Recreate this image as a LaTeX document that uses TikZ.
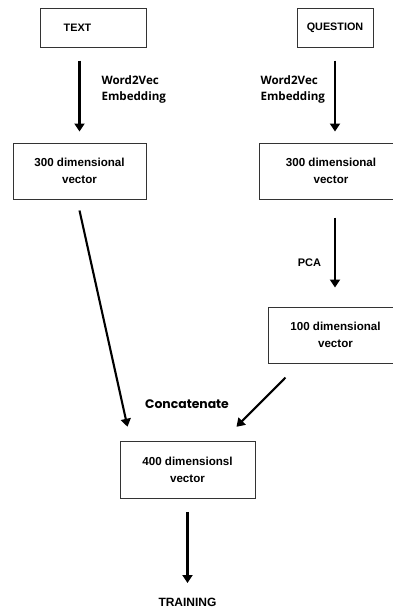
\documentclass[tikz,border=0pt]{standalone}
\usepackage{fontspec}
\setmainfont{Liberation Sans}
\newfontfamily\labfont{Open Sans}
\newfontfamily\catfont{Poppins}
\usetikzlibrary{arrows.meta}

\tikzset{
  box/.style={draw=black!80, line width=1pt, align=center, inner sep=0pt,
    font=\bfseries\fontsize{11.6}{17}\selectfont},
  arr/.style={line width=2.1pt, -{Triangle[width=10pt,length=8pt]}},
  lab/.style={font=\labfont\bfseries\fontsize{11.6}{15.5}\selectfont, align=left, anchor=west}
}

\begin{document}
\begin{tikzpicture}[x=1pt, y=-1pt]
  \clip (0,0) rectangle (393,608);
  \fill[white] (0,0) rectangle (393,608);
  % boxes
  \node[box, minimum width=106pt, minimum height=39pt, font=\bfseries\fontsize{10.8}{12}\selectfont] (text) at (93,27.5) {TEXT\hspace*{31pt}};
  \node[box, minimum width=76pt, minimum height=39pt, font=\bfseries\fontsize{10.8}{12}\selectfont] (question) at (335,27.5) {QUESTION};
  \node[box, minimum width=133pt, minimum height=56pt] (vecA) at (79.5,171) {300 dimensional\\vector};
  \node[box, minimum width=144pt, minimum height=56pt] (vecB) at (331,171) {300 dimensional\\vector};
  \node[box, minimum width=135pt, minimum height=56pt] (pcaB) at (335.5,335) {100 dimensional\\vector};
  \node[box, minimum width=135pt, minimum height=56.5pt] (vecC) at (187.5,470) {400 dimensionsl\\vector};
  % labels
  \node[lab] (embA) at (98,89.5) {Word2Vec\\Embedding};
  \node[lab] (embB) at (257,89.5) {Word2Vec\\Embedding};
  \node[font=\bfseries\fontsize{11}{13}\selectfont] (pca) at (309.5,263) {PCA};
  \node[font=\catfont\bfseries\fontsize{12.4}{15}\selectfont] (concat) at (187,404) {Concatenate};
  \node[font=\bfseries\fontsize{12}{14}\selectfont] (train) at (187.5,602) {TRAINING};
  % arrows
  \draw[arr, shorten <=13pt, shorten >=11pt] (vecA.north |- text.south) -- (vecA.north);
  \draw[arr, shorten <=13pt, shorten >=11pt] (question.south) -- (question.south |- vecB.north);
  \draw[arr] ([yshift=-11pt]vecA.south) -- ([xshift=8pt,yshift=14.5pt]vecC.north west);
  \draw[arr, shorten <=18pt, shorten >=19pt] (question.south |- vecB.south) -- (question.south |- pcaB.north);
  \draw[arr] ([xshift=18pt,yshift=-14pt]pcaB.south west) -- ([xshift=-19pt,yshift=14.5pt]vecC.north east);
  \draw[arr, shorten <=13pt] (vecC.south) -- ([yshift=19pt]vecC.south |- train.center);
\end{tikzpicture}
\end{document}
